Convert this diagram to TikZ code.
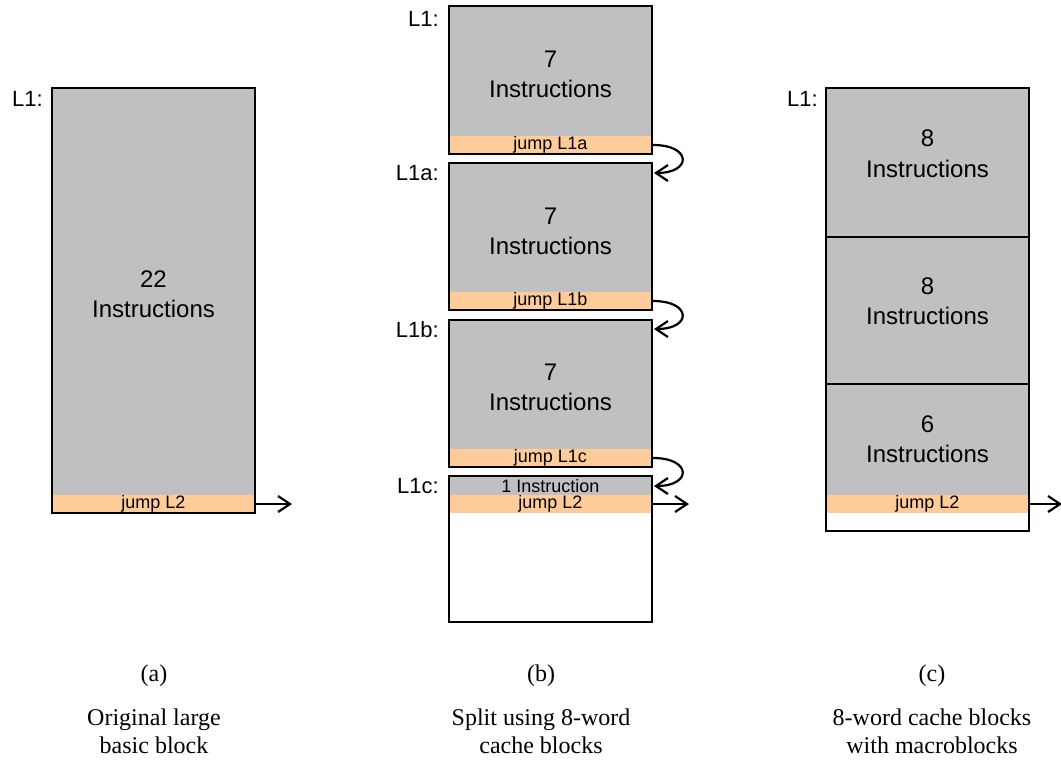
\documentclass[tikz,border=0pt]{standalone}
\usepackage{fontspec}
\setmainfont{Liberation Sans}
\newfontfamily\capfont{Liberation Serif}
\usetikzlibrary{arrows.meta}
\definecolor{instgray}{RGB}{192,192,192}
\definecolor{jumporange}{RGB}{255,204,153}
\begin{document}
\begin{tikzpicture}[x=1pt,y=-1pt,
  outline/.style={draw=black,line width=2pt},
  divider/.style={draw=black,line width=2pt},
  big/.style={font=\fontsize{24}{30}\selectfont,anchor=base,inner sep=0pt},
  small/.style={font=\fontsize{18}{20}\selectfont,anchor=base,inner sep=0pt},
  lbl/.style={font=\fontsize{22}{26}\selectfont,anchor=east,inner sep=0pt},
  captext/.style={font=\capfont\fontsize{24}{28}\selectfont,anchor=base,inner sep=0pt},
  jmp/.style={line width=2.2pt,-{Straight Barb[length=12pt,width=16pt,line width=2.2pt]}},
]
\useasboundingbox (0,0) rectangle (1061,761);

% ---------- (a) ----------
\fill[instgray] (52,88) rectangle (255,495);
\fill[jumporange] (52,495) rectangle (255,513);
\draw[outline] (52,88) rectangle (255,513);
\node[lbl] (aL1) at (43,99) {L1:};
\node[big] (a22) at (153.5,287) {22};
\node[big] (aIns) at (153.5,317) {Instructions};
\node[small] (aj) at (153.5,508) {jump L2};
\coordinate (aout) at (255,504);
\coordinate (aend) at (292,504);
\draw[jmp] (aout) -- (aend);

% ---------- (b) ----------
% block 1
\fill[instgray] (449,6) rectangle (652,136);
\fill[jumporange] (449,136) rectangle (652,154);
\draw[outline] (449,6) rectangle (652,154);
% block 2
\fill[instgray] (449,163) rectangle (652,292);
\fill[jumporange] (449,292) rectangle (652,310);
\draw[outline] (449,163) rectangle (652,310);
% block 3
\fill[instgray] (449,320) rectangle (652,449);
\fill[jumporange] (449,449) rectangle (652,467);
\draw[outline] (449,320) rectangle (652,467);
% block 4
\fill[instgray] (449,476) rectangle (652,495);
\fill[jumporange] (449,495) rectangle (652,513);
\fill[white] (449,513) rectangle (652,622);
\draw[outline] (449,476) rectangle (652,622);

\node[lbl] (bL1) at (439,19) {L1:};
\node[lbl] (bL1a) at (439,173) {L1a:};
\node[lbl] (bL1b) at (439,330) {L1b:};
\node[lbl] (bL1c) at (439,486) {L1c:};

\node[big] (b7a) at (550.5,67) {7};
\node[big] (bIa) at (550.5,97) {Instructions};
\node[big] (b7b) at (550.5,224) {7};
\node[big] (bIb) at (550.5,254) {Instructions};
\node[big] (b7c) at (550.5,380) {7};
\node[big] (bIc) at (550.5,410) {Instructions};
\node[small] (b1i) at (550.5,492) {1 Instruction};

\node[small] (bja) at (550.5,149) {jump L1a};
\node[small] (bjb) at (550.5,305) {jump L1b};
\node[small] (bjc) at (550.5,462) {jump L1c};
\node[small] (bjd) at (550.5,508) {jump L2};

\coordinate (s1) at (653,145);
\coordinate (e1) at (654,173);
\coordinate (s2) at (653,301);
\coordinate (e2) at (654,329);
\coordinate (s3) at (653,458);
\coordinate (e3) at (654,486);
\draw[jmp] (s1) .. controls (692,145) and (692,173) .. (e1);
\draw[jmp] (s2) .. controls (692,301) and (692,329) .. (e2);
\draw[jmp] (s3) .. controls (692,458) and (692,486) .. (e3);
\coordinate (bout) at (652,504);
\coordinate (bfin) at (689,504);
\draw[jmp] (bout) -- (bfin);

% ---------- (c) ----------
\fill[instgray] (826,88) rectangle (1029,495);
\fill[jumporange] (826,495) rectangle (1029,513);
\fill[white] (826,513) rectangle (1029,531);
\draw[divider] (826,237) -- (1029,237);
\draw[divider] (826,384) -- (1029,384);
\draw[outline] (826,88) rectangle (1029,531);
\node[lbl] (cL1) at (818,99) {L1:};
\node[big] (c8a) at (927.5,146) {8};
\node[big] (cIa) at (927.5,177) {Instructions};
\node[big] (c8b) at (927.5,294) {8};
\node[big] (cIb) at (927.5,324) {Instructions};
\node[big] (c6) at (927.5,432) {6};
\node[big] (cIc) at (927.5,462) {Instructions};
\node[small] (cj) at (927.5,508) {jump L2};
\coordinate (cout) at (1029,504);
\coordinate (cfin) at (1062,504);
\draw[jmp] (cout) -- (cfin);

% ---------- captions ----------
\node[captext] (capa) at (154,681) {(a)};
\node[captext] (capa1) at (154,725) {Original large};
\node[captext] (capa2) at (154,753) {basic block};
\node[captext] (capb) at (541,681) {(b)};
\node[captext] (capb1) at (541,725) {Split using 8-word};
\node[captext] (capb2) at (541,753) {cache blocks};
\node[captext] (capc) at (932,681) {(c)};
\node[captext] (capc1) at (932,725) {8-word cache blocks};
\node[captext] (capc2) at (932,753) {with macroblocks};
\end{tikzpicture}
\end{document}
